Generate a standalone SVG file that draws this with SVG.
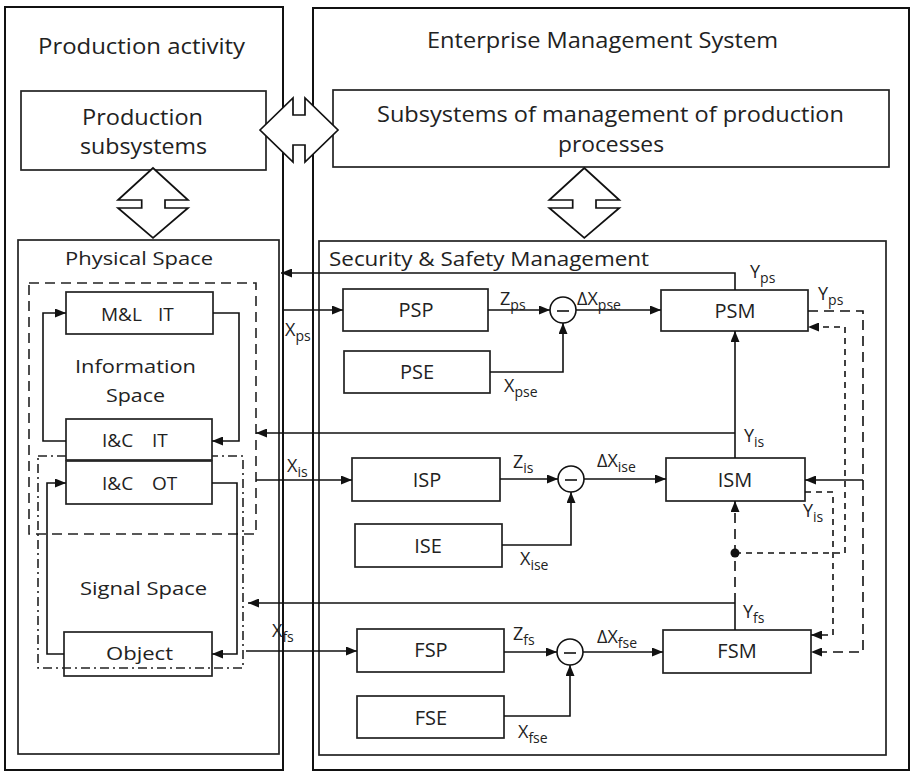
<svg xmlns="http://www.w3.org/2000/svg" width="912" height="772" viewBox="0 0 912 772">
<defs>
<style>
text{font-family:"Open Sans","Liberation Sans",sans-serif;fill:#222}
.t22{font-size:22px}
.t20{font-size:20px}
.t19{font-size:19px}
.lbl{font-size:18px}
.sub{font-size:14px}
.frame{fill:none;stroke:#111;stroke-width:2}
.box{fill:#fff;stroke:#222;stroke-width:1.7}
.ln{fill:none;stroke:#111;stroke-width:1.6}
.dl{stroke-dasharray:10 6}
.ds{stroke-dasharray:6 5}
.dd{fill:none;stroke:#222;stroke-width:1.6;stroke-dasharray:9 4 2 4}
.dr{fill:none;stroke:#222;stroke-width:1.6;stroke-dasharray:10 6}
.darrow{fill:#fff;stroke:#111;stroke-width:1.7;stroke-linejoin:miter}
</style>
<marker id="ah" markerUnits="userSpaceOnUse" markerWidth="11" markerHeight="9" refX="11" refY="4.5" orient="auto">
<path d="M0,0 L11,4.5 L0,9 z" fill="#111"/>
</marker>
</defs>
<rect width="912" height="772" fill="#fff"/>

<g id="production-activity">
<rect class="frame" x="5" y="7" width="278" height="763"/>
<text class="t22" x="38" y="54" textLength="207" lengthAdjust="spacingAndGlyphs">Production activity</text>
</g>
<g id="enterprise-management-system">
<rect class="frame" x="313" y="8" width="596" height="762"/>
<text class="t22" x="427" y="48" textLength="351" lengthAdjust="spacingAndGlyphs">Enterprise Management System</text>
</g>

<g id="production-subsystems">
<rect class="box" x="21" y="91" width="245" height="79"/>
<text class="t22" x="82" y="125" textLength="121" lengthAdjust="spacingAndGlyphs">Production</text>
<text class="t22" x="80" y="154" textLength="127" lengthAdjust="spacingAndGlyphs">subsystems</text>
</g>
<g id="subsystems-management">
<rect class="box" x="333" y="90" width="556" height="77"/>
<text class="t22" x="377" y="122" textLength="467" lengthAdjust="spacingAndGlyphs">Subsystems of management of production</text>
<text class="t22" x="558" y="152" textLength="106" lengthAdjust="spacingAndGlyphs">processes</text>
</g>

<g id="physical-space">
<rect class="box" x="18" y="240" width="261" height="514"/>
<text class="t19" x="65" y="265" textLength="148" lengthAdjust="spacingAndGlyphs">Physical Space</text>
</g>
<g id="security-safety-management">
<rect class="box" x="319" y="241" width="567" height="514"/>
<text class="t20" x="329" y="266" textLength="320" lengthAdjust="spacingAndGlyphs">Security &amp; Safety Management</text>
</g>

<g id="information-space">
<rect class="dr" x="29" y="283" width="227" height="251"/>
<text class="t19" x="75" y="373" textLength="121" lengthAdjust="spacingAndGlyphs">Information</text>
<text class="t19" x="106" y="402" textLength="59" lengthAdjust="spacingAndGlyphs">Space</text>
</g>
<g id="signal-space">
<rect class="dd" x="38" y="456" width="205" height="212"/>
<text class="t19" x="80" y="595" textLength="127" lengthAdjust="spacingAndGlyphs">Signal Space</text>
</g>

<g id="ml-it">
<rect class="box" x="66" y="292" width="147" height="42"/>
<text class="t19" x="101" y="321">M&amp;L<tspan x="158">IT</tspan></text>
</g>
<g id="ic-it">
<rect class="box" x="66" y="419" width="146" height="41"/>
<text class="t19" x="102" y="447">I&amp;C<tspan x="152">IT</tspan></text>
</g>
<g id="ic-ot">
<rect class="box" x="66" y="461" width="146" height="43"/>
<text class="t19" x="102" y="490">I&amp;C<tspan x="152">OT</tspan></text>
</g>
<g id="object">
<rect x="64" y="632" width="148" height="44" fill="none" stroke="#222" stroke-width="1.7"/>
<text class="t19" x="106" y="660" textLength="67" lengthAdjust="spacingAndGlyphs">Object</text>
</g>

<g id="psp"><rect class="box" x="343" y="289" width="145" height="42"/><text class="t20" x="416" y="317" text-anchor="middle">PSP</text></g>
<g id="pse"><rect class="box" x="344" y="351" width="146" height="42"/><text class="t20" x="417" y="379" text-anchor="middle">PSE</text></g>
<g id="psm"><rect class="box" x="661" y="290" width="147" height="41"/><text class="t20" x="735" y="318" text-anchor="middle">PSM</text></g>
<g id="isp"><rect class="box" x="352" y="458" width="148" height="43"/><text class="t20" x="427" y="487" text-anchor="middle">ISP</text></g>
<g id="ise"><rect class="box" x="355" y="524" width="147" height="43"/><text class="t20" x="428" y="553" text-anchor="middle">ISE</text></g>
<g id="ism"><rect class="box" x="666" y="458" width="139" height="43"/><text class="t20" x="735" y="487" text-anchor="middle">ISM</text></g>
<g id="fsp"><rect class="box" x="357" y="629" width="147" height="43"/><text class="t20" x="431" y="657" text-anchor="middle">FSP</text></g>
<g id="fse"><rect class="box" x="357" y="696" width="147" height="42"/><text class="t20" x="431" y="725" text-anchor="middle">FSE</text></g>
<g id="fsm"><rect class="box" x="663" y="630" width="148" height="43"/><text class="t20" x="737" y="658" text-anchor="middle">FSM</text></g>

<g id="cmp-ps"><circle cx="563" cy="310" r="13" fill="#fff" stroke="#111" stroke-width="1.6"/><line x1="557" y1="311" x2="569" y2="311" stroke="#111" stroke-width="1.6"/></g>
<g id="cmp-is"><circle cx="571" cy="479" r="13" fill="#fff" stroke="#111" stroke-width="1.6"/><line x1="565" y1="480" x2="577" y2="480" stroke="#111" stroke-width="1.6"/></g>
<g id="cmp-fs"><circle cx="570" cy="652" r="13" fill="#fff" stroke="#111" stroke-width="1.6"/><line x1="564" y1="653" x2="576" y2="653" stroke="#111" stroke-width="1.6"/></g>

<g id="connectors">
<path class="ln" d="M213,313 H239 V441 H212" marker-end="url(#ah)"/>
<path class="ln" d="M66,441 H43 V313 H66" marker-end="url(#ah)"/>
<path class="ln" d="M212,483 H237 V654 H212" marker-end="url(#ah)"/>
<path class="ln" d="M64,654 H47 V483 H66" marker-end="url(#ah)"/>

<path class="ln" d="M735,290 V273 H281" marker-end="url(#ah)"/>
<path class="ln" d="M282,310 H343" marker-end="url(#ah)"/>
<path class="ln" d="M735,433 H256" marker-end="url(#ah)"/>
<path class="ln" d="M256,480 H352" marker-end="url(#ah)"/>
<path class="ln" d="M735,603 H248" marker-end="url(#ah)"/>
<path class="ln" d="M246,651 H357" marker-end="url(#ah)"/>

<path class="ln" d="M488,310 H550" marker-end="url(#ah)"/>
<path class="ln" d="M490,372 H563 V323" marker-end="url(#ah)"/>
<path class="ln" d="M576,310 H661" marker-end="url(#ah)"/>
<path class="ln" d="M500,479 H558" marker-end="url(#ah)"/>
<path class="ln" d="M502,545 H571 V492" marker-end="url(#ah)"/>
<path class="ln" d="M584,479 H666" marker-end="url(#ah)"/>
<path class="ln" d="M504,652 H557" marker-end="url(#ah)"/>
<path class="ln" d="M504,716 H570 V665" marker-end="url(#ah)"/>
<path class="ln" d="M583,652 H663" marker-end="url(#ah)"/>

<path class="ln" d="M735,458 V331" marker-end="url(#ah)"/>
<path class="ln" d="M735,630 V603"/>
<path class="ln dl" d="M735,603 V501" marker-end="url(#ah)"/>
<circle cx="735" cy="553" r="4.5" fill="#111"/>

<path class="ln dl" d="M808,311 H863 V652 H811" marker-end="url(#ah)"/>
<path class="ln" d="M863,480 H805" marker-end="url(#ah)"/>
<path class="ln ds" d="M735,553 H845 V327 H808" marker-end="url(#ah)"/>
<path class="ln ds" d="M805,492 H833 V635 H811" marker-end="url(#ah)"/>

<polygon class="darrow" points="260,130 293,98 293,115 305,115 305,98 338,130 305,162 305,145 293,145 293,162"/>
<polygon class="darrow" points="153,168 118,200 141.7,200 141.7,208 118,208 153,238 188,208 165,208 165,200 188,200"/>
<polygon class="darrow" points="584.3,168 549.3,200 572.7,200 572.7,208 549.3,208 584.3,238 619.3,208 596,208 596,200 619.3,200"/>
</g>

<g id="labels">
<text class="lbl" x="750" y="278">Y<tspan class="sub" dy="5">ps</tspan></text>
<text class="lbl" x="818" y="300">Y<tspan class="sub" dy="5">ps</tspan></text>
<text class="lbl" x="285" y="336">X<tspan class="sub" dy="5">ps</tspan></text>
<text class="lbl" x="500" y="305">Z<tspan class="sub" dy="5">ps</tspan></text>
<text class="lbl" x="577" y="305">ΔX<tspan class="sub" dy="5">pse</tspan></text>
<text class="lbl" x="504" y="392">X<tspan class="sub" dy="5">pse</tspan></text>
<text class="lbl" x="744" y="442">Y<tspan class="sub" dy="5">is</tspan></text>
<text class="lbl" x="287" y="472">X<tspan class="sub" dy="5">is</tspan></text>
<text class="lbl" x="513" y="468">Z<tspan class="sub" dy="5">is</tspan></text>
<text class="lbl" x="597" y="467">ΔX<tspan class="sub" dy="5">ise</tspan></text>
<text class="lbl" x="520" y="565">X<tspan class="sub" dy="5">ise</tspan></text>
<text class="lbl" x="803" y="517">Y<tspan class="sub" dy="5">is</tspan></text>
<text class="lbl" x="743" y="618">Y<tspan class="sub" dy="5">fs</tspan></text>
<text class="lbl" x="272" y="637">X<tspan class="sub" dy="5">fs</tspan></text>
<text class="lbl" x="513" y="640">Z<tspan class="sub" dy="5">fs</tspan></text>
<text class="lbl" x="597" y="643">ΔX<tspan class="sub" dy="5">fse</tspan></text>
<text class="lbl" x="518" y="738">X<tspan class="sub" dy="5">fse</tspan></text>
</g>
</svg>
